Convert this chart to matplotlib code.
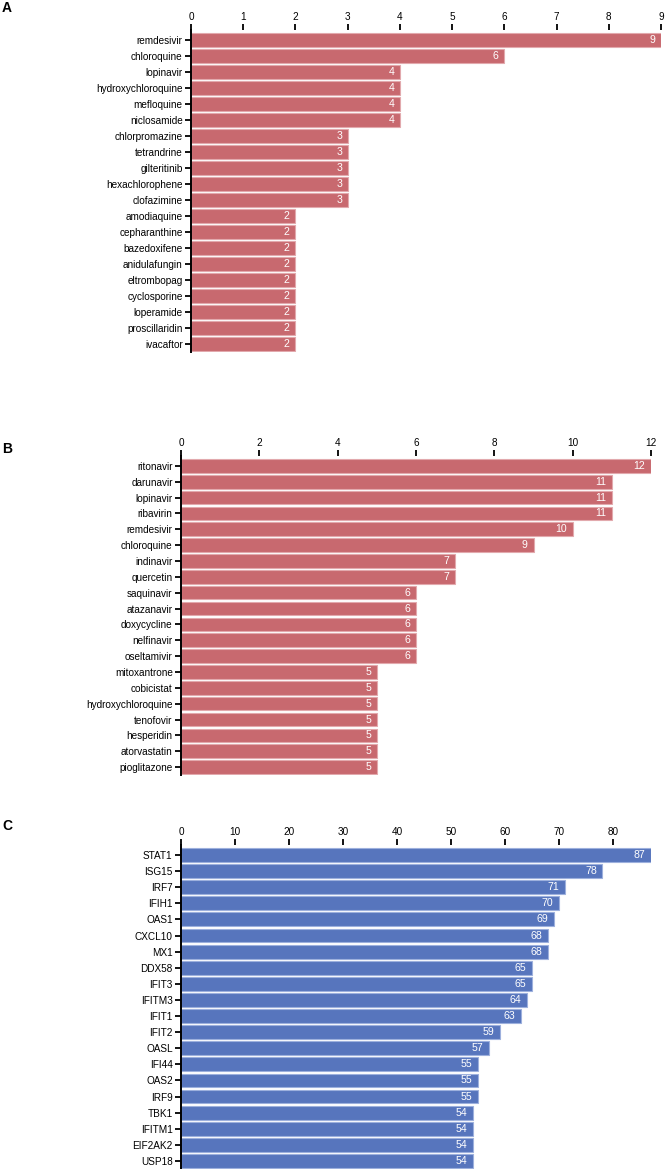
import matplotlib
matplotlib.use("Agg")
import matplotlib.pyplot as plt

plt.rcParams['font.family'] = ['Liberation Sans', 'DejaVu Sans']

drugs_a = ["remdesivir", "chloroquine", "lopinavir", "hydroxychloroquine", "mefloquine",
           "niclosamide", "chlorpromazine", "tetrandrine", "gilteritinib", "hexachlorophene",
           "clofazimine", "amodiaquine", "cepharanthine", "bazedoxifene", "anidulafungin",
           "eltrombopag", "cyclosporine", "loperamide", "proscillaridin", "ivacaftor"]
values_a = [9, 6, 4, 4, 4, 4, 3, 3, 3, 3, 3, 2, 2, 2, 2, 2, 2, 2, 2, 2]
ticks_a = [0, 1, 2, 3, 4, 5, 6, 7, 8, 9]

drugs_b = ["ritonavir", "darunavir", "lopinavir", "ribavirin", "remdesivir", "chloroquine",
           "indinavir", "quercetin", "saquinavir", "atazanavir", "doxycycline", "nelfinavir",
           "oseltamivir", "mitoxantrone", "cobicistat", "hydroxychloroquine", "tenofovir",
           "hesperidin", "atorvastatin", "pioglitazone"]
values_b = [12, 11, 11, 11, 10, 9, 7, 7, 6, 6, 6, 6, 6, 5, 5, 5, 5, 5, 5, 5]
ticks_b = [0, 2, 4, 6, 8, 10, 12]

genes_c = ["STAT1", "ISG15", "IRF7", "IFIH1", "OAS1", "CXCL10", "MX1", "DDX58", "IFIT3",
           "IFITM3", "IFIT1", "IFIT2", "OASL", "IFI44", "OAS2", "IRF9", "TBK1", "IFITM1",
           "EIF2AK2", "USP18"]
values_c = [87, 78, 71, 70, 69, 68, 68, 65, 65, 64, 63, 59, 57, 55, 55, 55, 54, 54, 54, 54]
ticks_c = [0, 10, 20, 30, 40, 50, 60, 70, 80]

RED = "#C8696F"
RED_EDGE = "#E2A9AD"
BLUE = "#5775BD"
BLUE_EDGE = "#9DB0DD"

W, H = 665, 1169
fig = plt.figure(figsize=(W / 100, H / 100), dpi=100)


def make_panel(left, right, top, bottom, labels, values, ticks, xmax, color, edge, letter, lx, ly):
    ax = fig.add_axes([left / W, 1 - bottom / H, (right - left) / W, (bottom - top) / H])
    n = len(labels)
    y = list(range(n))
    ax.barh(y, values, height=0.86, color=color, edgecolor=edge, linewidth=0.8)
    ax.set_ylim(n - 0.5, -0.62)
    ax.set_xlim(0, xmax)
    ax.set_yticks(y)
    ax.set_yticklabels(labels, fontsize=7.2)
    ax.set_xticks(ticks)
    ax.set_xticklabels([str(t) for t in ticks], fontsize=7.2)
    ax.xaxis.tick_top()
    ax.tick_params(axis='x', direction='out', length=4, width=1.3, pad=2, colors='black')
    ax.tick_params(axis='y', direction='out', length=4, width=1.3, pad=2)
    for s in ['right', 'bottom', 'top']:
        ax.spines[s].set_visible(False)
    ax.spines['left'].set_linewidth(1.4)
    for yi, v in zip(y, values):
        ax.text(v - xmax * 0.012, yi, str(v), ha='right', va='center', color='white', fontsize=7.6)
    fig.text(lx / W, 1 - ly / H, letter, fontsize=10, fontweight='bold', ha='left', va='center')
    return ax


make_panel(191, 661, 30, 352, drugs_a, values_a, ticks_a, 9, RED, RED_EDGE, "A", 2, 8)
make_panel(181, 651, 456, 775, drugs_b, values_b, ticks_b, 12, RED, RED_EDGE, "B", 2, 449)
make_panel(181, 651, 845, 1169, genes_c, values_c, ticks_c, 87, BLUE, BLUE_EDGE, "C", 2, 826)

fig.savefig("out.png", dpi=100)
